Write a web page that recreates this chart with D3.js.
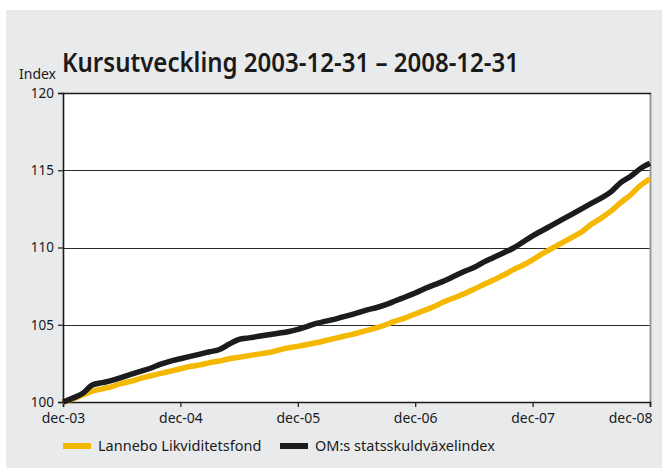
<!DOCTYPE html>
<html>
<head>
<meta charset="utf-8">
<script src="https://cdn.jsdelivr.net/npm/d3@7"></script>
<style>
  html, body { margin: 0; padding: 0; background: #ffffff; }
  svg { display: block; }
  text { font-family: "Noto Sans", "Open Sans", sans-serif; fill: #1a1a1a; }
</style>
</head>
<body>
<svg id="chart" width="662" height="469"></svg>
<script>
// Monthly index values, 2003-12-31 = 100
const startMonth = new Date(2003, 11, 31);
const lanneboValues = [
  100.0, 100.2, 100.45, 100.7, 100.85, 101.0, 101.2, 101.35, 101.55, 101.7,
  101.85, 102.0, 102.15, 102.3, 102.4, 102.55, 102.65, 102.8, 102.9, 103.0,
  103.1, 103.2, 103.35, 103.5, 103.6, 103.72, 103.85, 104.0, 104.15, 104.3,
  104.45, 104.62, 104.8, 105.0, 105.25, 105.45, 105.7, 105.95, 106.2, 106.5,
  106.75, 107.0, 107.3, 107.6, 107.9, 108.2, 108.55, 108.85, 109.2, 109.6,
  109.95, 110.3, 110.65, 111.0, 111.5, 111.9, 112.35, 112.9, 113.4, 114.0,
  114.45
];
const omValues = [
  100.0, 100.25, 100.55, 101.1, 101.25, 101.4, 101.6, 101.8, 102.0, 102.2,
  102.45, 102.65, 102.8, 102.95, 103.1, 103.25, 103.4, 103.75, 104.05, 104.15,
  104.25, 104.35, 104.45, 104.55, 104.7, 104.9, 105.1, 105.25, 105.4, 105.57,
  105.75, 105.95, 106.1, 106.3, 106.55, 106.8, 107.05, 107.35, 107.6, 107.85,
  108.15, 108.45, 108.7, 109.05, 109.35, 109.65, 109.95, 110.35, 110.75, 111.1,
  111.45, 111.8, 112.15, 112.5, 112.85, 113.2, 113.6, 114.2, 114.6, 115.1,
  115.45
];
const yTicks = [100, 105, 110, 115, 120];
const xTickLabels = ["dec-03", "dec-04", "dec-05", "dec-06", "dec-07", "dec-08"];
const seriesNames = ["Lannebo Likviditetsfond", "OM:s statsskuldväxelindex"];
const seriesColors = ["#f4b800", "#1c1c1e"];
const titleText = "Kursutveckling 2003-12-31 – 2008-12-31";

const svg = d3.select("#chart");
const margin = { left: 63, right: 650, top: 93, bottom: 402 };

// grey card behind the chart
svg.append("rect").attr("x", 6).attr("y", 10).attr("width", 656).attr("height", 458)
  .attr("fill", "#e9eaec");

const x = d3.scaleLinear().domain([0, omValues.length - 1]).range([margin.left, margin.right]);
const y = d3.scaleLinear().domain([100, 120]).range([margin.bottom, margin.top]);

// plot area
svg.append("rect").attr("x", margin.left).attr("y", margin.top)
  .attr("width", margin.right - margin.left).attr("height", margin.bottom - margin.top)
  .attr("fill", "#ffffff");

// horizontal grid lines
svg.append("g").selectAll("line").data(yTicks.filter(v => v > 100 && v < 120)).join("line")
  .attr("x1", margin.left).attr("x2", margin.right)
  .attr("y1", d => Math.round(y(d)) + 0.5).attr("y2", d => Math.round(y(d)) + 0.5)
  .attr("stroke", "#2a2a2a").attr("stroke-width", 1.1);

// frame: right edge grey, top dark
svg.append("line").attr("x1", margin.right + 0.5).attr("x2", margin.right + 0.5)
  .attr("y1", margin.top).attr("y2", margin.bottom)
  .attr("stroke", "#9a9a9a").attr("stroke-width", 2);
svg.append("line").attr("x1", margin.left).attr("x2", margin.right + 1)
  .attr("y1", margin.top + 0.5).attr("y2", margin.top + 0.5)
  .attr("stroke", "#1a1a1a").attr("stroke-width", 1.6);

// y axis
const yAxis = d3.axisLeft(y).tickValues(yTicks).tickSize(5).tickPadding(4).tickFormat(d3.format("d"));
const gy = svg.append("g").attr("transform", `translate(${margin.left},0)`).call(yAxis);
gy.select(".domain").attr("stroke", "#1a1a1a").attr("stroke-width", 1.6);
gy.selectAll(".tick line").attr("stroke", "#1a1a1a").attr("stroke-width", 1.2);
gy.selectAll(".tick text").attr("font-size", 13.5).attr("font-family", "Noto Sans").attr("fill", "#1a1a1a");

// x axis, one tick per year end; the last label sits inside the card
const xTickIdx = xTickLabels.map((_, i) => i * 12);
const xAxis = d3.axisBottom(x).tickValues(xTickIdx).tickSize(5).tickPadding(6)
  .tickFormat((d, i) => xTickLabels[i]);
const gx = svg.append("g").attr("transform", `translate(0,${margin.bottom})`).call(xAxis);
gx.select(".domain").attr("stroke", "#1a1a1a").attr("stroke-width", 1.6);
gx.selectAll(".tick line").attr("stroke", "#1a1a1a").attr("stroke-width", 1.2);
gx.selectAll(".tick text").attr("font-size", 14).attr("font-family", "Noto Sans").attr("fill", "#1a1a1a");
gx.selectAll(".tick text").filter((d, i) => i === xTickLabels.length - 1)
  .attr("text-anchor", "end").attr("dx", 2);

// series lines
const line = d3.line().x((d, i) => x(i)).y(d => y(d)).curve(d3.curveMonotoneX);
[lanneboValues, omValues].forEach((vals, k) => {
  svg.append("path").datum(vals).attr("d", line)
    .attr("fill", "none").attr("stroke", seriesColors[k])
    .attr("stroke-width", 5.5).attr("stroke-linejoin", "round").attr("stroke-linecap", "butt");
});

// title and axis caption
svg.append("text").attr("x", 62).attr("y", 72).text(titleText)
  .attr("font-size", 27).attr("font-weight", 600)
  .attr("textLength", 457).attr("lengthAdjust", "spacingAndGlyphs");
svg.append("text").attr("x", 19).attr("y", 79).text("Index").attr("font-size", 14);

// legend
const legendX = [63, 280];
seriesNames.forEach((name, k) => {
  const g = svg.append("g").attr("transform", `translate(${legendX[k]},446)`);
  g.append("rect").attr("x", 0).attr("y", -3).attr("width", 28).attr("height", 6)
    .attr("fill", seriesColors[k]);
  g.append("text").attr("x", 35).attr("y", 5).text(name).attr("font-size", 14.5);
});
</script>
</body>
</html>
